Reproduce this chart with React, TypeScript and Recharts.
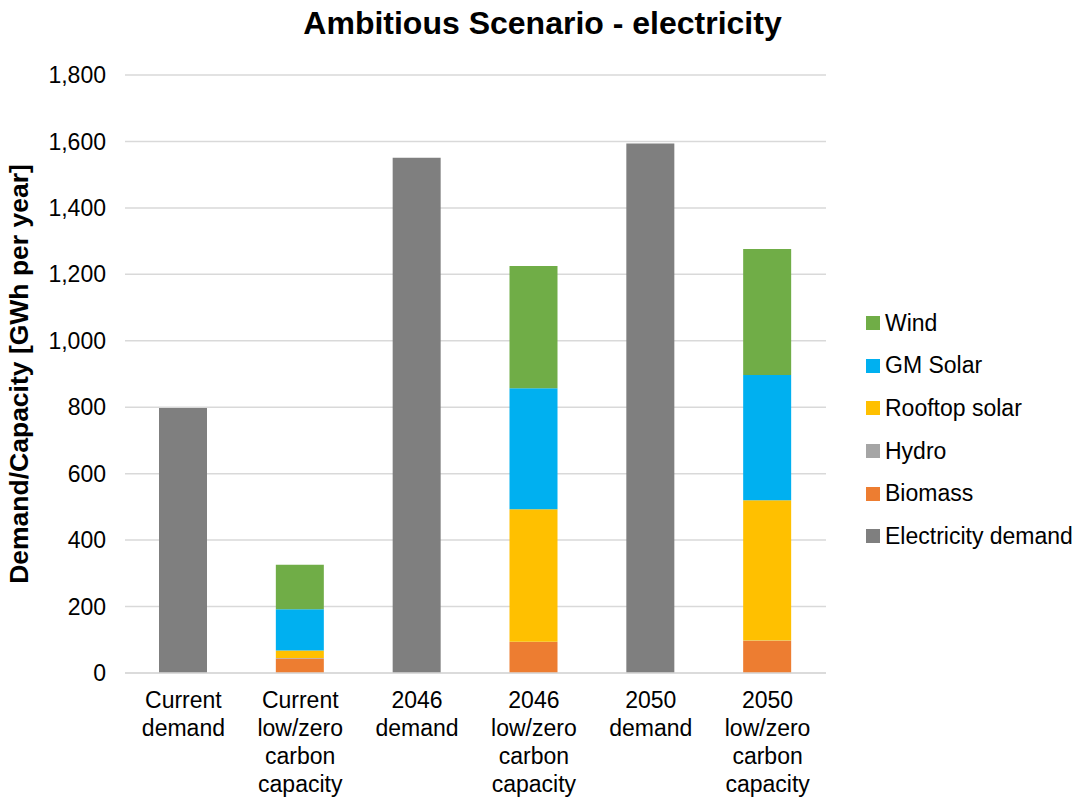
import React from 'react';
import { BarChart, Bar, XAxis, YAxis, CartesianGrid, Label } from 'recharts';

const categories = [
  'Current\ndemand',
  'Current\nlow/zero\ncarbon\ncapacity',
  '2046\ndemand',
  '2046\nlow/zero\ncarbon\ncapacity',
  '2050\ndemand',
  '2050\nlow/zero\ncarbon\ncapacity',
];

const demand = [798, 0, 1551, 0, 1594, 0];
const biomass = [0, 44, 0, 93, 0, 97];
const hydro = [0, 1, 0, 1, 0, 1];
const rooftopSolar = [0, 23, 0, 399, 0, 422];
const gmSolar = [0, 124, 0, 364, 0, 377];
const wind = [0, 134, 0, 368, 0, 379];

const yTicks = [0, 200, 400, 600, 800, 1000, 1200, 1400, 1600, 1800];

const series = [
  { key: 'demand', name: 'Electricity demand', color: '#7f7f7f' },
  { key: 'biomass', name: 'Biomass', color: '#ed7d31' },
  { key: 'hydro', name: 'Hydro', color: '#a5a5a5' },
  { key: 'rooftop', name: 'Rooftop solar', color: '#ffc000' },
  { key: 'gm', name: 'GM Solar', color: '#00b0f0' },
  { key: 'wind', name: 'Wind', color: '#70ad47' },
];

const data = categories.map((c, i) => ({
  name: c,
  demand: demand[i],
  biomass: biomass[i],
  hydro: hydro[i],
  rooftop: rooftopSolar[i],
  gm: gmSolar[i],
  wind: wind[i],
}));

const FONT = '"Liberation Sans", Arial, sans-serif';

const CategoryTick = (props: any) => {
  const { x, y, payload } = props;
  const lines = String(payload.value).split('\n');
  return (
    <text x={x} y={y} textAnchor="middle" fontFamily={FONT} fontSize={23} fill="#000">
      {lines.map((l, i) => (
        <tspan key={i} x={x} dy={i === 0 ? 27 : 28}>
          {l}
        </tspan>
      ))}
    </text>
  );
};

// legend is drawn top-down, opposite of the stacking order
const LegendBox = () => (
  <div style={{ position: 'absolute', left: 866, top: 302, fontFamily: FONT, fontSize: 23, color: '#000' }}>
    {[...series].reverse().map((s) => (
      <div key={s.key} style={{ display: 'flex', alignItems: 'center', height: 42.6, whiteSpace: 'nowrap' }}>
        <span style={{ width: 14, height: 14, background: s.color, display: 'inline-block', marginRight: 5 }} />
        {s.name}
      </div>
    ))}
  </div>
);

export default function App() {
  return (
    <div style={{ position: 'absolute', left: 0, top: 0, width: 1085, height: 800, background: '#fff' }}>
      <div
        style={{
          position: 'absolute',
          top: 5,
          left: 0,
          width: 1085,
          textAlign: 'center',
          fontFamily: FONT,
          fontWeight: 'bold',
          fontSize: 32,
          lineHeight: '36px',
        }}
      >
        Ambitious Scenario - electricity
      </div>
      <BarChart
        width={1085}
        height={800}
        data={data}
        margin={{ top: 75, right: 259, bottom: 0, left: 0 }}
        barSize={48}
      >
        <CartesianGrid vertical={false} stroke="#d9d9d9" strokeWidth={1.5} />
        <XAxis
          dataKey="name"
          interval={0}
          height={127}
          tickLine={false}
          axisLine={{ stroke: '#d9d9d9', strokeWidth: 1.5 }}
          tick={<CategoryTick />}
        />
        <YAxis
          width={125}
          domain={[0, 1800]}
          ticks={yTicks}
          interval={0}
          tickLine={false}
          axisLine={false}
          tickMargin={13}
          tickFormatter={(v: number) => v.toLocaleString('en-US')}
          tick={{ fontFamily: FONT, fontSize: 23, fill: '#000' }}
        >
          <Label
            value="Demand/Capacity [GWh per year]"
            angle={-90}
            position="insideLeft"
            offset={19}
            style={{ textAnchor: 'middle', fontFamily: FONT, fontWeight: 'bold', fontSize: 26.5, fill: '#000' }}
          />
        </YAxis>
        {series.map((s) => (
          <Bar key={s.key} dataKey={s.key} name={s.name} stackId="a" fill={s.color} isAnimationActive={false} />
        ))}
      </BarChart>
      <LegendBox />
    </div>
  );
}
